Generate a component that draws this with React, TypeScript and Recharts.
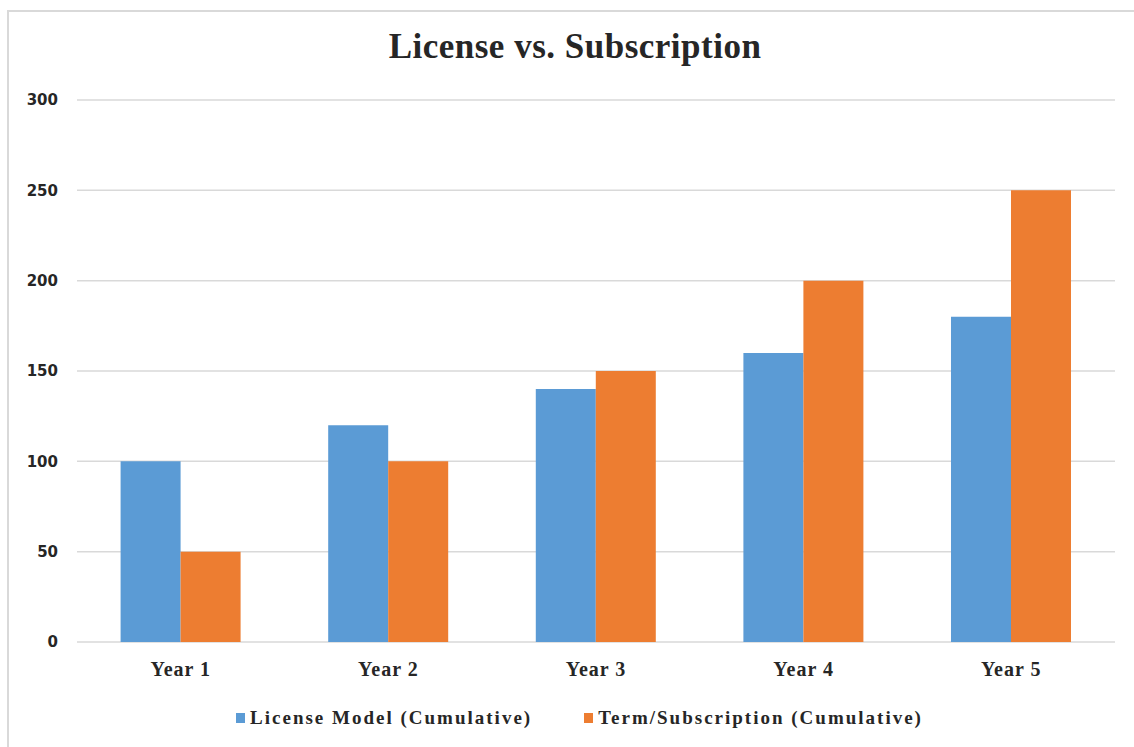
import React from "react";
import { BarChart, Bar, XAxis, YAxis, CartesianGrid, Legend } from "recharts";

const categories = ["Year 1", "Year 2", "Year 3", "Year 4", "Year 5"];
const licenseValues = [100, 120, 140, 160, 180];
const termValues = [50, 100, 150, 200, 250];
const yTicks = [0, 50, 100, 150, 200, 250, 300];
const seriesNames = ["License Model (Cumulative)", "Term/Subscription (Cumulative)"];
const title = "License vs. Subscription";

const data = categories.map((c, i) => ({
  name: c,
  license: licenseValues[i],
  term: termValues[i],
}));

const serif = "'Liberation Serif', 'DejaVu Serif', serif";

const renderLegend = (props: any) => {
  const payload = props.payload || [];
  return (
    <div style={{ display: "flex", justifyContent: "center", alignItems: "center", gap: 52, paddingLeft: 44 }}>
      {payload.map((p: any) => (
        <div key={p.value} style={{ display: "flex", alignItems: "center" }}>
          <span style={{ display: "inline-block", width: 9, height: 10, background: p.color, marginRight: 5 }} />
          <span
            style={{
              color: "#262626",
              fontFamily: serif,
              fontWeight: "bold",
              fontSize: 19,
              letterSpacing: 2,
            }}
          >
            {p.value}
          </span>
        </div>
      ))}
    </div>
  );
};

export default function App() {
  return (
    <div style={{ position: "absolute", left: 0, top: 0, width: 1134, height: 747, background: "#fff" }}>
      <div
        style={{
          position: "absolute",
          left: 7,
          top: 10,
          right: 0,
          bottom: 0,
          borderTop: "2px solid #D9D9D9",
          borderLeft: "2px solid #D9D9D9",
        }}
      />
      <div
        style={{
          position: "absolute",
          left: 8,
          width: 1134,
          top: 27,
          textAlign: "center",
          fontFamily: serif,
          fontWeight: "bold",
          fontSize: 35,
          letterSpacing: 0.5,
          color: "#262626",
        }}
      >
        {title}
      </div>
      <div style={{ position: "absolute", left: 0, top: 0 }}>
        <BarChart
          width={1134}
          height={747}
          data={data}
          margin={{ top: 100, right: 19, left: 0, bottom: 29 }}
          barCategoryGap="21%"
          barGap={0}
        >
          <CartesianGrid vertical={false} stroke="#D9D9D9" strokeWidth={1.5} />
          <XAxis
            dataKey="name"
            height={50}
            axisLine={false}
            tickLine={false}
            tickSize={0}
            tickMargin={20}
            tick={{ fill: "#262626", fontFamily: serif, fontWeight: "bold", fontSize: 20, letterSpacing: 1 }}
          />
          <YAxis
            width={77}
            domain={[0, 300]}
            ticks={yTicks}
            axisLine={false}
            tickLine={false}
            tickSize={0}
            tickMargin={19}
            tick={{ fill: "#262626", fontFamily: "'DejaVu Sans', sans-serif", fontWeight: "bold", fontSize: 15 }}
          />
          <Legend
            verticalAlign="bottom"
            content={renderLegend}
            wrapperStyle={{ top: 707, bottom: "auto", height: 26 }}
          />
          <Bar dataKey="license" name={seriesNames[0]} fill="#5B9BD5" isAnimationActive={false} />
          <Bar dataKey="term" name={seriesNames[1]} fill="#ED7D31" isAnimationActive={false} />
        </BarChart>
      </div>
    </div>
  );
}
